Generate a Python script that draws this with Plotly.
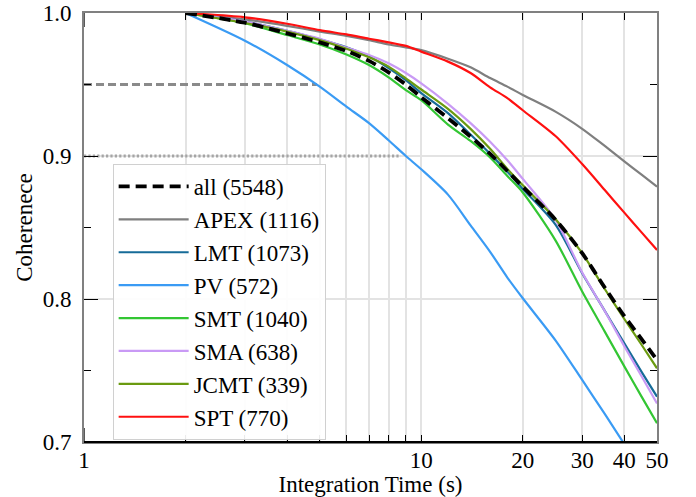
import plotly.graph_objects as go

# ---------------- data ----------------
t = [2, 3, 4, 5, 6, 7, 8, 9, 10, 12, 14, 16, 18, 20, 25, 30, 35, 40, 45, 50]

coh_all = [1.0, 0.9932, 0.9858, 0.9795, 0.9734, 0.9665, 0.9585, 0.9500, 0.9410, 0.9265,
           0.9135, 0.9015, 0.8895, 0.8785, 0.8555, 0.8320, 0.8080, 0.7880, 0.7720, 0.7573]
coh_apex = [1.0, 0.9955, 0.9910, 0.9870, 0.9840, 0.9810, 0.9780, 0.9760, 0.9740, 0.9680,
            0.9620, 0.9545, 0.9485, 0.9427, 0.9310, 0.9190, 0.9070, 0.8963, 0.8869, 0.8785]
coh_lmt = [1.0, 0.9940, 0.9876, 0.9816, 0.9760, 0.9695, 0.9615, 0.9530, 0.9440, 0.9300,
           0.9150, 0.9015, 0.8890, 0.8770, 0.8520, 0.8180, 0.7917, 0.7690, 0.7490, 0.7317]
coh_pv = [1.0, 0.9806, 0.9636, 0.9485, 0.9345, 0.9230, 0.9110, 0.9000, 0.8907, 0.8730,
          0.8515, 0.8330, 0.8150, 0.8005, 0.7711, 0.7434, 0.7196, 0.6985, None, None]
coh_smt = [1.0, 0.9928, 0.9846, 0.9780, 0.9710, 0.9636, 0.9550, 0.9460, 0.9390, 0.9220,
           0.9105, 0.8990, 0.8860, 0.8745, 0.8410, 0.8052, 0.7772, 0.7529, 0.7317, 0.7131]
coh_sma = [1.0, 0.9940, 0.9876, 0.9820, 0.9758, 0.9706, 0.9648, 0.9580, 0.9508, 0.9365,
           0.9230, 0.9100, 0.8970, 0.8840, 0.8555, 0.8185, 0.7916, 0.7670, 0.7460, 0.7270]
coh_jcmt = [1.0, 0.9930, 0.9870, 0.9810, 0.9750, 0.9690, 0.9625, 0.9543, 0.9465, 0.9330,
            0.9190, 0.9050, 0.8910, 0.8795, 0.8560, 0.8320, 0.8070, 0.7860, 0.7680, 0.7515]
coh_spt = [1.0, 0.9970, 0.9925, 0.9880, 0.9850, 0.9820, 0.9795, 0.9770, 0.9730, 0.9660,
           0.9580, 0.9480, 0.9405, 0.9320, 0.9140, 0.8944, 0.8762, 0.8604, 0.8466, 0.8343]

names = ["all (5548)", "APEX (1116)", "LMT (1073)", "PV (572)", "SMT (1040)",
         "SMA (638)", "JCMT (339)", "SPT (770)"]
values = [coh_all, coh_apex, coh_lmt, coh_pv, coh_smt, coh_sma, coh_jcmt, coh_spt]

# reference thresholds (level, time where PV reaches it)
ref_levels = [0.95, 0.90]
ref_ends = [4.9, 8.7]

x_tickvals = [1, 10, 20, 30, 40, 50]
x_ticktext = ["1", "10", "20", "30", "40", "50"]
x_minor = [2, 3, 4, 5, 6, 7, 8, 9]

# ---------------- styles ----------------
colors = ["black", "#7f7f7f", "#166b98", "#3a9bf4", "#33c633", "#c99af5", "#6a9a10", "#ff1010"]
widths = [3.8, 2.2, 2.2, 2.2, 2.2, 2.2, 2.2, 2.2]
dashes = ["11px,6px"] + ["solid"] * 7

FONT = "'Liberation Serif', 'DejaVu Serif', serif"
FS = 23
GRID = "#e3e3e3"

fig = go.Figure()

# reference lines
ref_styles = [("#8a8a8a", "8px,4px"), ("#a5a5a5", "2.2px,2.2px")]
for lvl, end, (c, d) in zip(ref_levels, ref_ends, ref_styles):
    fig.add_trace(go.Scatter(x=[1, end], y=[lvl, lvl], mode="lines",
                             line=dict(color=c, width=2.8, dash=d),
                             showlegend=False, hoverinfo="skip"))

order = list(range(1, len(names))) + [0]
for i in order:
    fig.add_trace(go.Scatter(
        x=t, y=values[i], name=names[i], mode="lines",
        line=dict(color=colors[i], width=widths[i], dash=dashes[i],
                  shape="spline", smoothing=0.8),
        legendrank=1 if i == 0 else 100 + i,
    ))

fig.update_layout(
    width=696, height=497,
    margin=dict(l=84, r=39, t=13, b=55),
    paper_bgcolor="white", plot_bgcolor="white",
    font=dict(family=FONT, size=FS, color="black"),
    legend=dict(x=0.05, y=0.648, xanchor="left", yanchor="top",
                bgcolor="rgba(255,255,255,0.92)", bordercolor="#d0d0d0", borderwidth=1,
                font=dict(family=FONT, size=FS), itemwidth=70, tracegroupgap=0),
)

fig.update_xaxes(
    type="log", range=[0, 1.69897], automargin=False,
    tickmode="array", tickvals=x_tickvals, ticktext=x_ticktext,
    ticks="inside", ticklen=7, tickwidth=1.3, tickcolor="black",
    ticklabelstandoff=-4, ticklabeloverflow="allow",
    showline=True, linecolor="#808080", linewidth=2, mirror="ticks",
    showgrid=True, gridcolor=GRID, gridwidth=1.5,
    minor=dict(tickmode="array", tickvals=x_minor, ticks="inside", ticklen=7,
               tickwidth=1.3, tickcolor="black", showgrid=True, gridcolor=GRID, gridwidth=1.5),
    title=dict(text="Integration Time (s)", standoff=0, font=dict(family=FONT, size=FS)),
    zeroline=False,
)
fig.update_yaxes(
    range=[0.7, 1.0], tick0=0.7, dtick=0.1, tickformat=".1f", automargin=False,
    ticks="inside", ticklen=14, tickwidth=1.3, tickcolor="black", ticklabelstandoff=6,
    ticklabeloverflow="allow",
    showline=True, linecolor="#808080", linewidth=2, mirror="ticks",
    showgrid=True, gridcolor=GRID, gridwidth=1.5,
    minor=dict(dtick=0.05, tick0=0.7, ticks="inside", ticklen=7, tickwidth=1.3,
               tickcolor="black", showgrid=False),
    title=dict(text="Coherenece", standoff=4, font=dict(family=FONT, size=FS)),
    zeroline=False,
)

# black bottom spine and longer ticks at 10 (top and bottom)
fig.add_shape(type="line", xref="paper", yref="paper", x0=0, x1=1, y0=0, y1=0,
              line=dict(color="black", width=2))
fig.add_shape(type="line", xref="x", yref="paper", x0=1, x1=1, ysizemode="pixel",
              yanchor=0, y0=0, y1=14, line=dict(color="black", width=1.3))
fig.add_shape(type="line", xref="x", yref="paper", x0=1, x1=1, ysizemode="pixel",
              yanchor=1, y0=0, y1=-14, line=dict(color="black", width=1.3))

# remove the default 8px page margin so the figure fills the window exactly
fig.write_html("out.html", config={"displayModeBar": False},
               post_script="document.body.style.margin='0px';")
